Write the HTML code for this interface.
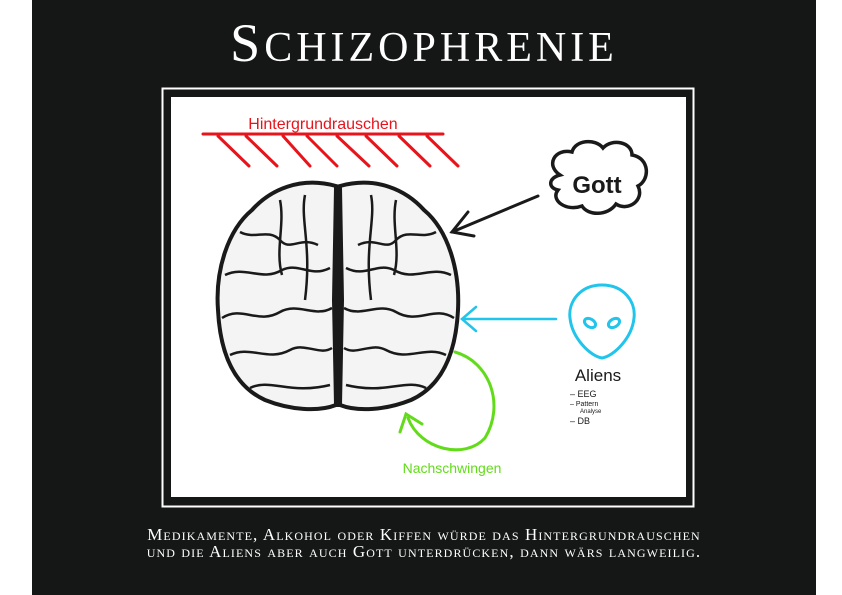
<!DOCTYPE html>
<html><head><meta charset="utf-8"><style>
html,body{margin:0;padding:0;background:#fff;}
#page{position:relative;width:842px;height:595px;overflow:hidden;background:#fff;font-family:"Liberation Serif",serif;}
#dark{position:absolute;left:32px;top:0;width:784px;height:595px;background:#151717;}
#title{position:absolute;left:32px;width:784px;top:13px;text-align:center;color:#fff;font-size:42px;letter-spacing:4px;line-height:60px;}
#title .big{font-size:54px;}
#caption{position:absolute;left:32px;width:784px;top:526px;text-align:center;color:#fff;font-size:17px;font-variant:small-caps;line-height:17px;letter-spacing:1.1px;}
svg{position:absolute;left:0;top:0;}
</style></head><body>
<div id="page">
<div id="dark"></div>
<div id="title"><span class="big">S</span>CHIZOPHRENIE</div>
<svg width="842" height="595">
<rect x="162.5" y="88.5" width="531" height="418" fill="none" stroke="#fff" stroke-width="2"/>
<rect x="171" y="97" width="515" height="400" fill="#fff"/>
<g stroke="#e8141b" stroke-width="3" stroke-linecap="round">
<line x1="203" y1="134" x2="443" y2="134"/>
<line x1="218" y1="136" x2="249" y2="166"/><line x1="246" y1="136" x2="277" y2="166"/>
<line x1="283" y1="136" x2="310" y2="166"/><line x1="307" y1="136" x2="337" y2="166"/>
<line x1="337" y1="136" x2="369" y2="166"/><line x1="366" y1="136" x2="397" y2="166"/>
<line x1="399" y1="136" x2="430" y2="166"/><line x1="427" y1="136" x2="458" y2="166"/>
</g>
<text x="323" y="129" text-anchor="middle" fill="#e8141b" font-family="Liberation Sans, sans-serif" font-size="16">Hintergrundrauschen</text>
<g fill="#f4f4f4" stroke="#1a1a1a" stroke-width="4">
<path d="M336,186 C300,176 270,190 252,210 C228,230 215,270 218,310 C220,350 232,385 265,400 C290,410 318,412 336,405 Z"/>
<path d="M340,186 C376,176 406,190 424,210 C448,230 460,270 458,310 C456,350 444,385 411,400 C386,410 358,412 340,405 Z"/>
<path d="M336,188 L340,188 L342,300 L340,405 L336,405 L334,300 Z" fill="#1a1a1a"/>
</g>
<g fill="none" stroke="#1a1a1a" stroke-width="2.5">
<path d="M240,232 C255,240 268,228 280,240 C290,252 300,236 318,245"/>
<path d="M225,275 C245,265 262,282 282,270 C300,262 310,278 330,268"/>
<path d="M222,318 C242,305 258,325 280,312 C298,302 315,318 332,308"/>
<path d="M230,355 C250,345 268,362 290,350 C305,342 320,356 332,348"/>
<path d="M250,388 C270,378 290,395 330,385"/>
<path d="M280,200 C285,225 275,250 282,275 M305,195 C300,220 312,245 305,300"/>
<path d="M436,232 C421,240 408,228 396,240 C386,252 376,236 358,245"/>
<path d="M451,275 C431,265 414,282 394,270 C376,262 366,278 346,268"/>
<path d="M454,318 C434,305 418,325 396,312 C378,302 361,318 344,308"/>
<path d="M446,355 C426,345 408,362 386,350 C371,342 356,356 344,348"/>
<path d="M426,388 C406,378 386,395 346,385"/>
<path d="M396,200 C391,225 401,250 394,275 M371,195 C376,220 364,245 371,300"/>
</g>
<g fill="#fff" stroke="#1a1a1a" stroke-width="3.5">
<path d="M560,175 C545,165 555,148 572,152 C575,140 595,138 603,148 C612,138 632,142 632,155 C650,158 650,180 638,186 C645,200 628,212 616,204 C608,216 588,216 582,206 C566,212 550,200 558,190 C548,188 548,178 560,175 Z"/>
</g>
<text x="597" y="193" text-anchor="middle" fill="#1a1a1a" font-family="Liberation Sans, sans-serif" font-size="24" font-weight="bold">Gott</text>
<g stroke="#1a1a1a" stroke-width="3" fill="none" stroke-linecap="round">
<line x1="538" y1="196" x2="452" y2="232"/><path d="M468,212 L452,232 L474,236"/>
</g>
<g stroke="#21c4ea" stroke-width="2.5" fill="none" stroke-linecap="round">
<line x1="556" y1="319" x2="462" y2="319"/><path d="M476,307 L462,319 L476,331"/>
</g>
<g stroke="#21c4ea" stroke-width="3" fill="#fff">
<path d="M602,285 C580,285 568,302 570,318 C572,338 590,356 602,358 C614,356 632,338 634,318 C636,302 624,285 602,285 Z"/>
<ellipse cx="590" cy="323" rx="6" ry="4" transform="rotate(30 590 323)"/>
<ellipse cx="614" cy="323" rx="6" ry="4" transform="rotate(-30 614 323)"/>
</g>
<text x="598" y="381" text-anchor="middle" fill="#1a1a1a" font-family="Liberation Sans, sans-serif" font-size="17">Aliens</text>
<g fill="#1a1a1a" font-family="Liberation Sans, sans-serif">
<text x="570" y="397" font-size="9">– EEG</text>
<text x="570" y="406" font-size="7">– Pattern</text>
<text x="580" y="413" font-size="6">Analyse</text>
<text x="570" y="424" font-size="9">– DB</text>
</g>
<g stroke="#62dc1a" stroke-width="3" fill="none" stroke-linecap="round">
<path d="M455,352 C490,362 505,405 485,438 C465,460 420,450 408,418"/><path d="M400,432 L406,414 L422,424"/>
</g>
<text x="452" y="473" text-anchor="middle" fill="#62dc1a" font-family="Liberation Sans, sans-serif" font-size="14">Nachschwingen</text>
</svg>
<div id="caption">Medikamente, Alkohol oder Kiffen würde das Hintergrundrauschen<br>und die Aliens aber auch Gott unterdrücken, dann wärs langweilig.</div>
</div>
</body></html>
